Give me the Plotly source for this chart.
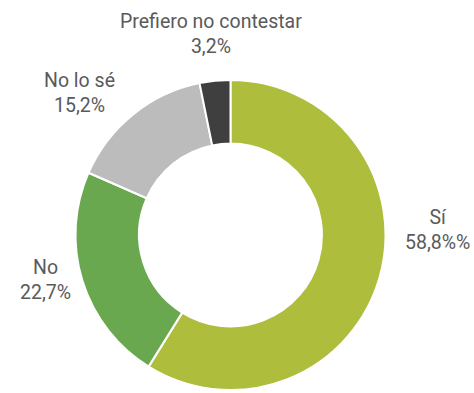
import plotly.graph_objects as go

# Survey answers and their shares (%)
categories = ["Sí", "No", "No lo sé", "Prefiero no contestar"]
values = [58.8, 22.7, 15.2, 3.2]
label_texts = ["Sí<br>58,8%%", "No<br>22,7%", "No lo sé<br>15,2%", "Prefiero no contestar<br>3,2%"]
colors = ["#afbd3d", "#6aa84f", "#bcbcbc", "#3f3f3f"]

W, H = 474, 393
cx, cy, r = 230.5, 235, 155

fig = go.Figure(go.Pie(
    labels=categories,
    values=values,
    hole=0.59,
    sort=False,
    direction="clockwise",
    rotation=0,
    marker=dict(colors=colors, line=dict(color="white", width=2)),
    textinfo="none",
    hoverinfo="label+percent",
    domain=dict(x=[(cx - r) / W, (cx + r) / W],
                y=[(H - cy - r) / H, (H - cy + r) / H]),
    showlegend=False,
))

# Caption centres (pixels from top-left) for each slice
label_pos = [(437, 230), (45, 280), (79, 93), (211, 34)]
for txt, (x, y) in zip(label_texts, label_pos):
    fig.add_annotation(
        x=x / W, y=1 - y / H, xref="paper", yref="paper",
        text=txt, showarrow=False, align="center",
        xanchor="center", yanchor="middle",
        font=dict(family="Roboto", size=19.5, color="#5a5a5a"),
    )

fig.update_layout(
    width=W, height=H,
    margin=dict(l=0, r=0, t=0, b=0),
    paper_bgcolor="white",
    plot_bgcolor="white",
)

fig.write_html("out.html")
